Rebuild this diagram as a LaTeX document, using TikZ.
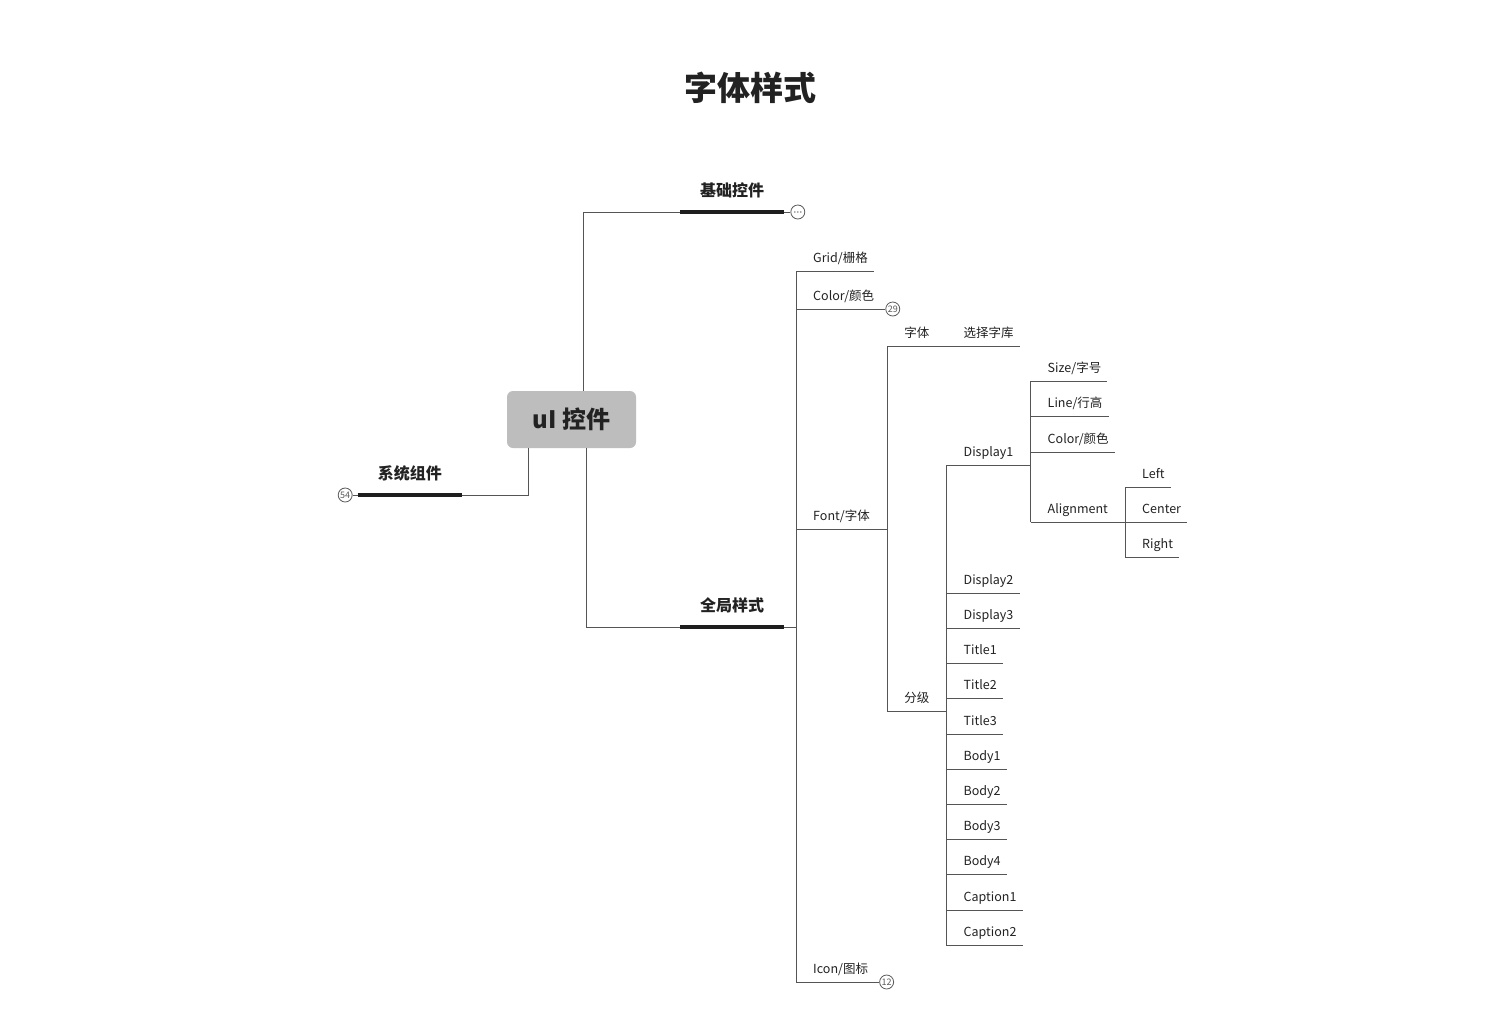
\documentclass[tikz,border=0pt]{standalone}
\usepackage{fontspec}
\setmainfont{Noto Sans CJK SC}
\usepackage{xcolor}
\usepackage{tikz}
\usetikzlibrary{positioning}
\definecolor{linegray}{HTML}{555555}
\definecolor{barblack}{HTML}{1E1E1E}
\definecolor{rootgray}{HTML}{BDBDBD}
\definecolor{textdark}{HTML}{222222}
\definecolor{foldgray}{HTML}{5A5A5A}

\begin{document}
\begin{tikzpicture}[
  x=1pt,y=-1pt,
  link/.style={draw=linegray,line width=1pt},
  bar/.style={draw=barblack,line width=4pt},
  item/.style={anchor=south west,inner xsep=0pt,inner ysep=5pt,text height=10pt,text depth=3pt,
    font=\fontsize{12.5}{15}\selectfont,text=textdark,execute at begin node={\hspace*{17pt}},
    append after command={(\tikzlastnode.south west) edge[link] (\tikzlastnode.south east)}},
  leaf/.style={item,execute at end node={\hspace*{6pt}}},
  sub/.style={item,execute at end node={\hspace*{17pt}}},
  branch/.style={inner xsep=20pt,inner ysep=10pt,text depth=5pt,text=textdark,
    font=\fontsize{16}{18}\selectfont\bfseries,
    append after command={(\tikzlastnode.south west) edge[bar] (\tikzlastnode.south east)}},
  fold/.style={circle,draw=foldgray,line width=0.8pt,fill=white,minimum size=14pt,inner sep=0pt,
    font=\fontsize{9}{9}\selectfont,text=foldgray},
  more/.style={fold,path picture={
    \fill[foldgray] ([xshift=-3pt]path picture bounding box.center) circle (0.8pt);
    \fill[foldgray] (path picture bounding box.center) circle (0.8pt);
    \fill[foldgray] ([xshift=3pt]path picture bounding box.center) circle (0.8pt);}},
  root/.style={rounded corners=6pt,fill=rootgray,minimum width=129pt,minimum height=57pt,
    font=\fontsize{24}{28}\selectfont\bfseries,text=textdark}
]
\fill[white] (0,0) rectangle (1500,1029);
\useasboundingbox (0,0) rectangle (1500,1029);

\node[font=\fontsize{33}{38}\selectfont\bfseries,text=textdark] (title) at (750,88) {字体样式};

% centre and main branches
\node[root] (ui) at (571.5,419.5) {uI 控件};
\node[branch,anchor=south west] (base) at (680,212) {基础控件};
\node[branch,anchor=south east] (sys) at (462,495) {系统组件};
\node[branch,anchor=south west] (glob) at (680,627) {全局样式};
\node[more,right=6pt of base.south east] (basefold) {};
\node[fold,left=5pt of sys.south west] (sysfold) {54};

% global styles
\node[leaf] (grid) at (796,271) {Grid/栅格};
\node[leaf] (color) at (796,309) {Color/颜色};
\node[sub] (font) at (796,529) {Font/字体};
\node[leaf] (icon) at (796,982) {Icon/图标};
\node[fold,right=5pt of color.south east] (colorfold) {29};
\node[fold,right=5pt of icon.south east] (iconfold) {12};

% font
\node[sub] (zt) at (font.south east |- 0,346) {字体};
\node[leaf] (xz) at (zt.south east) {选择字库};
\node[sub] (fj) at (font.south east |- 0,711) {分级};

% levels
\node[sub] (d1) at (fj.south east |- 0,465) {Display1};
\node[leaf] (d2) at (fj.south east |- 0,593) {Display2};
\node[leaf] (d3) at (fj.south east |- 0,628) {Display3};
\node[leaf] (t1) at (fj.south east |- 0,663) {Title1};
\node[leaf] (t2) at (fj.south east |- 0,698) {Title2};
\node[leaf] (t3) at (fj.south east |- 0,734) {Title3};
\node[leaf] (b1) at (fj.south east |- 0,769) {Body1};
\node[leaf] (b2) at (fj.south east |- 0,804) {Body2};
\node[leaf] (b3) at (fj.south east |- 0,839) {Body3};
\node[leaf] (b4) at (fj.south east |- 0,874) {Body4};
\node[leaf] (c1) at (fj.south east |- 0,910) {Caption1};
\node[leaf] (c2) at (fj.south east |- 0,945) {Caption2};

% display1
\node[leaf] (size) at (d1.south east |- 0,381) {Size/字号};
\node[leaf] (lh) at (d1.south east |- 0,416) {Line/行高};
\node[leaf] (dcolor) at (d1.south east |- 0,452) {Color/颜色};
\node[sub] (align) at (d1.south east |- 0,522) {Alignment};
\node[leaf] (alleft) at (align.south east |- 0,487) {Left};
\node[leaf] (alcenter) at (align.south east |- 0,522) {Center};
\node[leaf] (alright) at (align.south east |- 0,557) {Right};

% connectors
\draw[link] ([xshift=11.5pt]ui.north) |- (base.south west);
\draw[link] ([xshift=-43.5pt]ui.south) |- (sys.south east);
\draw[link] ([xshift=14.5pt]ui.south) |- (glob.south west);
\draw[link] (base.south east) -- (basefold);
\draw[link] (sys.south west) -- (sysfold);
\draw[link] (glob.south east) -| (grid.south west);
\draw[link] (glob.south east) -| (color.south west);
\draw[link] (glob.south east) -| (font.south west);
\draw[link] (glob.south east) -| (icon.south west);
\draw[link] (color.south east) -- (colorfold);
\draw[link] (icon.south east) -- (iconfold);
\draw[link] (font.south east) |- (zt.south west);
\draw[link] (font.south east) |- (fj.south west);
\draw[link] (fj.south east) |- (d1.south west);
\draw[link] (fj.south east) |- (d2.south west);
\draw[link] (fj.south east) |- (d3.south west);
\draw[link] (fj.south east) |- (t1.south west);
\draw[link] (fj.south east) |- (t2.south west);
\draw[link] (fj.south east) |- (t3.south west);
\draw[link] (fj.south east) |- (b1.south west);
\draw[link] (fj.south east) |- (b2.south west);
\draw[link] (fj.south east) |- (b3.south west);
\draw[link] (fj.south east) |- (b4.south west);
\draw[link] (fj.south east) |- (c1.south west);
\draw[link] (fj.south east) |- (c2.south west);
\draw[link] (d1.south east) |- (size.south west);
\draw[link] (d1.south east) |- (lh.south west);
\draw[link] (d1.south east) |- (dcolor.south west);
\draw[link] (d1.south east) |- (align.south west);
\draw[link] (align.south east) |- (alleft.south west);
\draw[link] (align.south east) |- (alcenter.south west);
\draw[link] (align.south east) |- (alright.south west);
\end{tikzpicture}
\end{document}
